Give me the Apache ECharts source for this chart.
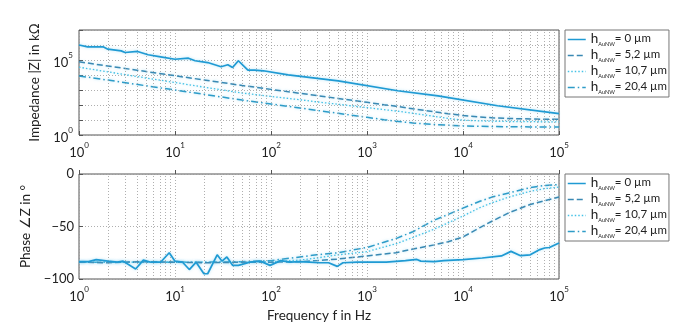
<!DOCTYPE html>
<html><head><meta charset="utf-8">
<script src="https://cdn.jsdelivr.net/npm/echarts@6/dist/echarts.min.js"></script>
<style>html,body{margin:0;padding:0;background:#fff}#c{width:682px;height:335px}</style>
</head><body><div id="c"></div>
<script>
// ---------- data ----------
const seriesNames = ['h0', 'h52', 'h107', 'h204'];
const legendLabels = ['= 0 µm', '= 5,2 µm', '= 10,7 µm', '= 20,4 µm'];
const gridFreqs = [2,3,4,5,6,7,8,9,20,30,40,50,60,70,80,90,200,300,400,500,600,700,800,900,
  2000,3000,4000,5000,6000,7000,8000,9000,20000,30000,40000,50000,60000,70000,80000,90000];

// common frequency grid for smooth curves (Hz)
const freq = [1, 2, 5, 10, 20, 50, 100, 200, 300, 500, 700, 1000, 1500, 2000, 3000, 5000, 7000, 10000, 15000, 20000, 30000, 50000, 70000, 100000];

// impedance |Z| in kOhm
const freqZ0 = [1, 1.23, 1.78, 2.0, 2.75, 3.02, 4.07, 5.25, 7.08, 10, 13.8, 16.2, 21.9, 30.2, 35.5, 39.8, 45.7, 57.5, 67.6, 83.2, 151, 501, 2089, 5495, 22909, 100000];
const z0 = [1.0e6, 7.59e5, 7.59e5, 5.25e5, 4.07e5, 3.16e5, 3.72e5, 2.24e5, 1.62e5, 1.12e5, 1.32e5, 8.91e4, 6.76e4, 3.55e4, 4.79e4, 3.16e4, 8.91e4, 2.09e4, 2.09e4, 1.91e4, 1.02e4, 4.07e3, 891, 407, 89.1, 26.9];
const z52 = [7.59e4, 3.98e4, 1.70e4, 8.91e3, 4.68e3, 2.0e3, 1.10e3, 603, 427, 275, 204, 151, 105, 83.2, 56.2, 35.5, 26.3, 20.0, 15.8, 14.1, 12.6, 11.7, 11.2, 11.2];
const z107 = [3.31e4, 1.62e4, 6.31e3, 3.16e3, 1.55e3, 631, 372, 224, 162, 112, 87.1, 67.6, 49.0, 39.8, 28.2, 17.8, 12.6, 9.77, 8.71, 8.32, 7.94, 7.76, 7.59, 7.59];
const z204 = [8.71e3, 4.57e3, 1.91e3, 1.0e3, 513, 214, 117, 63.1, 43.7, 28.2, 20.4, 15.1, 10.5, 8.32, 6.31, 5.01, 4.47, 4.07, 3.80, 3.72, 3.55, 3.47, 3.47, 3.47];

// phase in degrees
const freqP0 = [1, 1.26, 1.51, 2, 2.51, 2.88, 3.89, 4.68, 5.62, 7.08, 8.71, 10, 12, 14.1, 16.6, 20, 21.9, 27.5, 30.9, 34.7, 39.8, 45.7, 60.3, 77.6, 97.7, 126, 158, 200, 251, 316, 398, 490, 562, 794, 1000, 1585, 2512, 3311, 3631, 5012, 6310, 10000, 15849, 25119, 31623, 39811, 50119, 63096, 70795, 79433, 100000];
const p0 = [-83.5, -83.5, -81.5, -83, -84, -83, -90.5, -82, -84, -84, -75, -83, -84, -91, -84, -95, -95, -77, -83, -79, -87, -87, -84, -83, -87, -82.5, -84, -83.5, -84, -84.5, -84.5, -88, -84.5, -84, -84, -84, -82.5, -81.4, -83, -83.5, -82.5, -81.5, -80, -78, -73.7, -77.8, -77, -72, -70.5, -70, -65.7];
const p52 = [-84, -84.5, -83.5, -84, -84.5, -84, -84, -83.5, -82.5, -81, -79.5, -78, -76.3, -75, -71.5, -67.5, -64.5, -60, -51, -45, -37, -29, -25.5, -22];
const p107 = [-84, -84, -84, -84, -84, -84, -83.5, -82, -80, -77, -75.5, -74, -69.5, -66.5, -60.5, -52.5, -46.5, -40, -32, -27.5, -22, -16.5, -14, -12.5];
const p204 = [-84, -84, -84, -84, -84, -83.5, -82.5, -79, -77, -75, -72.5, -70, -65, -61.5, -55, -44, -38.5, -32.5, -26, -22, -18, -13, -11, -10];

// ---------- styles ----------
const FONT = 'Lato';
const colors = ['#1f9ad3', '#3a89b3', '#45c2e6', '#2e9cc8'];
const dashes = ['solid', [6, 3], [1.5, 2], [7, 3, 1.5, 3]];
const widths = [1.7, 1.5, 1.3, 1.5];

function pairs(xs, ys) { return xs.map((x, i) => [x, ys[i]]); }

const supRich = {
  b: { fontFamily: FONT, fontSize: 13, color: '#222', lineHeight: 18, verticalAlign: 'bottom' },
  s: { fontFamily: FONT, fontSize: 8, color: '#222', verticalAlign: 'top' }
};
function powLabel(v) {
  const e = Math.round(Math.log10(v));
  return '{b|10}{s|' + e + '}';
}

const gridLine = { color: '#9a9a9a', type: [1, 2], width: 0.8 };

function makeSeries(idx, data, xi, yi, withGrid) {
  const s = {
    name: seriesNames[idx], type: 'line', xAxisIndex: xi, yAxisIndex: yi,
    data: data, showSymbol: false, symbol: 'circle', symbolSize: 0, smooth: false, silent: true,
    lineStyle: { color: colors[idx], width: widths[idx], type: dashes[idx],
      shadowColor: 'rgba(120,205,240,0.55)', shadowBlur: 3 },
    itemStyle: { color: colors[idx] },
    z: 5 - idx
  };
  if (withGrid) {
    s.markLine = {
      silent: true, symbol: 'none', animation: false,
      label: { show: false },
      lineStyle: gridLine,
      data: gridFreqs.map(f => ({ xAxis: f }))
    };
  }
  return s;
}

const xAxisBase = (gi) => ({
  type: 'log', gridIndex: gi, min: 1, max: 100000, logBase: 10,
  axisLine: { show: false },
  axisTick: { show: true, inside: true, length: 4, lineStyle: { color: '#555' } },
  splitLine: { show: true, lineStyle: gridLine },
  axisLabel: { formatter: powLabel, rich: supRich, margin: 6, color: '#222' }
});

const option = {
  animation: false,
  backgroundColor: '#fff',
  textStyle: { fontFamily: FONT },
  grid: [
    { left: 79, top: 30, width: 480, height: 105, show: true, borderColor: '#555', borderWidth: 1, backgroundColor: 'transparent' },
    { left: 79, top: 174, width: 480, height: 105, show: true, borderColor: '#555', borderWidth: 1, backgroundColor: 'transparent' }
  ],
  xAxis: [
    xAxisBase(0),
    Object.assign(xAxisBase(1), {
      name: 'Frequency f in Hz', nameLocation: 'middle', nameGap: 30,
      nameTextStyle: { fontFamily: FONT, fontSize: 13.5, color: '#222' }
    })
  ],
  yAxis: [
    {
      type: 'log', gridIndex: 0, min: 1, max: 1e7, logBase: 10, splitNumber: 7,
      axisLine: { show: false },
      axisTick: { show: true, inside: true, length: 4, lineStyle: { color: '#555' } },
      splitLine: { show: true, lineStyle: gridLine },
      axisLabel: {
        formatter: v => { const e = Math.round(Math.log10(v)); return (e === 0 || e === 5) ? powLabel(v) : ''; },
        rich: supRich, margin: 6, color: '#222'
      },
      name: 'Impedance |Z| in kΩ', nameLocation: 'middle', nameGap: 37, nameRotate: 90,
      nameTextStyle: { fontFamily: FONT, fontSize: 13.5, color: '#222' }
    },
    {
      type: 'value', gridIndex: 1, min: -100, max: 0, interval: 50,
      axisLine: { show: false },
      axisTick: { show: true, inside: true, length: 4, lineStyle: { color: '#555' } },
      splitLine: { show: true, lineStyle: gridLine },
      axisLabel: { fontFamily: FONT, fontSize: 13, color: '#222', margin: 5,
        formatter: v => v < 0 ? '\u2212' + Math.abs(v) : String(v) },
      name: 'Phase \u2220Z in \u00B0', nameLocation: 'middle', nameGap: 37, nameRotate: 90,
      nameTextStyle: { fontFamily: FONT, fontSize: 13.5, color: '#222' }
    }
  ],
  legend: [0, 1].map(i => ({
    left: 565, top: i === 0 ? 30 : 174, orient: 'vertical',
    data: seriesNames, itemWidth: 18, itemHeight: 10, itemGap: 1,
    padding: [2, 2, 2, 2],
    backgroundColor: '#fff', borderColor: '#777', borderWidth: 1,
    selectedMode: false,
    itemStyle: { color: 'rgba(0,0,0,0)', borderColor: 'rgba(0,0,0,0)', borderWidth: 0 },
    lineStyle: { width: 1.5 },
    formatter: name => '{h|h}{sub|AuNW}{t|' + legendLabels[seriesNames.indexOf(name)] + '}',
    textStyle: {
      fontFamily: FONT, color: '#222',
      rich: {
        h: { fontFamily: FONT, fontSize: 13.5, color: '#222', lineHeight: 15, verticalAlign: 'top' },
        sub: { fontFamily: FONT, fontSize: 5.5, color: '#222', verticalAlign: 'bottom' },
        t: { fontFamily: FONT, fontSize: 11.5, color: '#222', lineHeight: 15, verticalAlign: 'top' }
      }
    }
  })),
  series: [
    makeSeries(0, pairs(freqZ0, z0), 0, 0, true),
    makeSeries(1, pairs(freq, z52), 0, 0, false),
    makeSeries(2, pairs(freq, z107), 0, 0, false),
    makeSeries(3, pairs(freq, z204), 0, 0, false),
    makeSeries(0, pairs(freqP0, p0), 1, 1, true),
    makeSeries(1, pairs(freq, p52), 1, 1, false),
    makeSeries(2, pairs(freq, p107), 1, 1, false),
    makeSeries(3, pairs(freq, p204), 1, 1, false)
  ]
};

const chart = echarts.init(document.getElementById('c'), null, { renderer: 'canvas' });
chart.setOption(option);
</script>
</body></html>
